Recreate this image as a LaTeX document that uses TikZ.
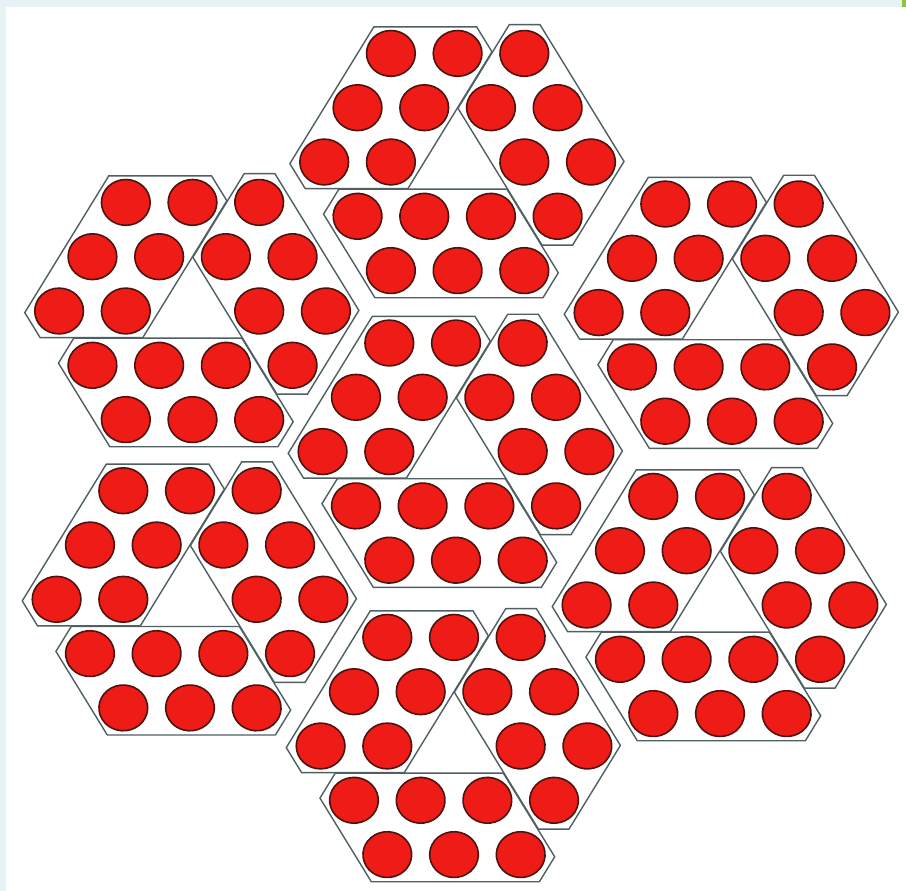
\documentclass[tikz,border=0pt]{standalone}
\definecolor{edgegray}{HTML}{4E6062}
\definecolor{ballred}{HTML}{EE1B16}
\definecolor{balledge}{HTML}{4E130F}
\definecolor{framebg}{HTML}{E6F2F4}
\definecolor{framegreen}{HTML}{8CC63F}
\begin{document}
\begin{tikzpicture}[x=1pt,y=-1pt,
  piece/.style={draw=edgegray, line width=1.4pt, line join=miter},
  ball/.style={fill=ballred, draw=balledge, line width=1.6pt}]
\useasboundingbox (0,0) rectangle (906,891);
\fill[white] (0,0) rectangle (906,891);
\fill[framebg] (0,0) rectangle (906,7);
\fill[framebg] (0,0) rectangle (6,891);
\fill[framegreen] (902,0) rectangle (906,7);
% outlines of the three pieces of every cluster
\foreach \cx/\cy in {457.6/162, 456/451.6, 454/746, 192.5/311, 732/312.6, 190/599.3, 720/605} {
  \foreach \a in {0,120,240} {
    \begin{scope}[shift={(\cx,\cy)}, yscale=0.94, scale=66.7, rotate=\a]
      \draw[piece] (-1.255,-2.156) -- (0.285,-2.156) -- (0.515,-1.758)
        -- (-0.745,0.424) -- (-2.285,0.424) -- (-2.515,0.026) -- cycle;
    \end{scope}
  }
}
% balls
\foreach \cx/\cy in {457.6/162, 456/451.6, 454/746, 192.5/311, 732/312.6, 190/599.3, 720/605} {
  \foreach \a in {0,120,240} {
    \begin{scope}[shift={(\cx,\cy)}, yscale=0.94, scale=66.7, rotate=\a]
      \foreach \px/\py in {-2/0, -1/0, -1.5/-0.866, -0.5/-0.866, -1/-1.732, 0/-1.732} {
        \draw[ball] (\px,\py) circle (0.365);
      }
    \end{scope}
  }
}
\end{tikzpicture}
\end{document}
